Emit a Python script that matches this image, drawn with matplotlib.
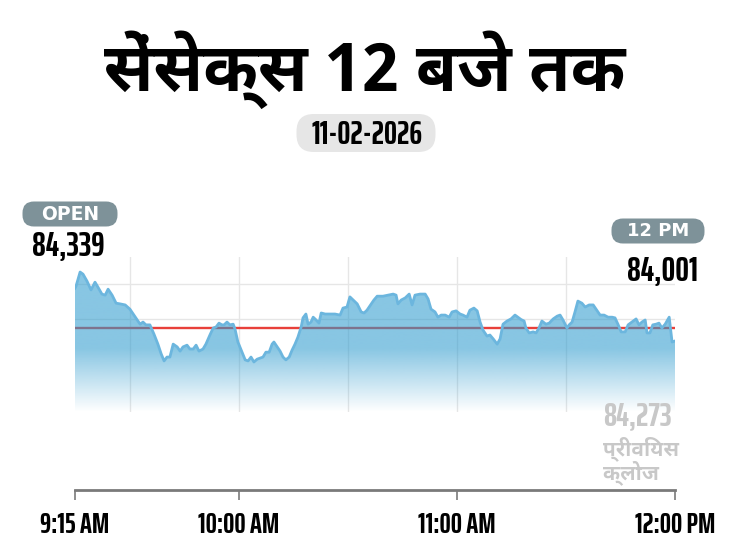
import numpy as np
import matplotlib
matplotlib.use("Agg")
import matplotlib.pyplot as plt
from matplotlib import font_manager
from matplotlib.font_manager import FontProperties
from matplotlib.ft2font import FT2Font
from matplotlib.patches import PathPatch, FancyBboxPatch
from matplotlib.transforms import IdentityTransform

title = "सेंसेक्स 12 बजे तक"
date_label = "11-02-2026"
open_label = "OPEN"
open_value = "84,339"
now_label = "12 PM"
now_value = "84,001"
prev_value = "84,273"
prev_words = ["प्रीवियस", "क्लोज"]
prev_close = 84273

tick_minutes = [0, 45, 105, 165]
tick_labels = ["9:15 AM", "10:00 AM", "11:00 AM", "12:00 PM"]
grid_minutes = [15, 45, 75, 105, 135]
grid_levels = [84300, 84400]

# minutes after 9:15
minutes = [0.0, 0.3, 1.4, 2.2, 3.3, 4.4, 5.5, 6.3, 7.4, 8.3,
           9.1, 10.2, 11.3, 12.4, 13.8, 15.1, 16.0, 17.1, 17.9, 18.7,
           19.5, 20.6, 21.7, 22.8, 23.7, 24.5, 25.3, 26.1, 27.0, 28.1,
           28.9, 29.7, 30.8, 31.6, 32.5, 33.3, 34.1, 35.2, 36.0, 37.1,
           38.0, 38.8, 39.6, 40.4, 41.0, 41.8, 42.6, 43.5, 44.0, 44.8,
           45.7, 46.8, 47.6, 48.4, 49.2, 50.1, 50.9, 51.7, 52.5, 53.4,
           54.2, 54.7, 55.6, 56.4, 57.2, 58.0, 58.9, 59.7, 60.5, 61.3,
           62.2, 62.7, 63.5, 64.1, 64.9, 65.5, 66.3, 67.1, 67.7, 68.8,
           70.1, 71.5, 72.9, 73.7, 74.8, 75.6, 76.5, 77.6, 78.7, 79.5,
           80.3, 81.1, 82.2, 83.1, 84.7, 86.1, 87.5, 88.3, 88.8, 89.7,
           90.8, 91.9, 92.7, 93.5, 94.9, 96.3, 97.1, 97.9, 99.0, 99.8,
           100.7, 101.8, 102.9, 103.7, 104.8, 105.9, 106.7, 107.8, 108.6, 109.7,
           110.6, 111.4, 112.2, 113.3, 114.1, 115.0, 116.1, 116.9, 117.7, 118.8,
           119.9, 121.0, 121.8, 122.7, 123.5, 124.0, 124.9, 126.0, 126.8, 127.6,
           128.4, 129.5, 130.4, 131.5, 132.6, 133.4, 134.2, 135.3, 135.9, 136.7,
           137.5, 138.3, 139.4, 140.3, 141.4, 142.5, 143.3, 144.4, 145.5, 146.6,
           147.7, 148.5, 149.3, 150.2, 151.3, 152.1, 153.5, 154.3, 155.1, 155.9,
           156.8, 157.3, 158.1, 158.9, 159.8, 160.6, 161.4, 162.3, 163.4, 164.2,
           165.0]
values = [84387, 84393, 84433, 84427, 84407, 84382, 84404, 84390, 84370, 84367,
          84384, 84367, 84344, 84342, 84339, 84327, 84313, 84296, 84284, 84290,
          84282, 84282, 84256, 84227, 84199, 84179, 84190, 84190, 84227, 84219,
          84207, 84219, 84224, 84213, 84213, 84224, 84207, 84213, 84227, 84253,
          84273, 84276, 84287, 84282, 84282, 84290, 84282, 84284, 84270, 84233,
          84210, 84182, 84179, 84190, 84176, 84184, 84187, 84190, 84204, 84204,
          84227, 84233, 84219, 84207, 84190, 84182, 84190, 84210, 84227, 84247,
          84276, 84302, 84313, 84284, 84290, 84304, 84296, 84287, 84316, 84313,
          84313, 84313, 84310, 84330, 84333, 84362, 84353, 84342, 84319, 84316,
          84324, 84336, 84353, 84364, 84364, 84367, 84370, 84367, 84342, 84353,
          84359, 84370, 84339, 84367, 84370, 84370, 84356, 84327, 84319, 84304,
          84310, 84310, 84304, 84319, 84322, 84313, 84310, 84304, 84324, 84330,
          84322, 84290, 84267, 84250, 84253, 84242, 84227, 84242, 84284, 84293,
          84299, 84310, 84304, 84297, 84293, 84273, 84259, 84262, 84259, 84273,
          84293, 84284, 84287, 84299, 84307, 84310, 84296, 84273, 84282, 84290,
          84319, 84350, 84344, 84333, 84339, 84339, 84327, 84310, 84310, 84304,
          84304, 84302, 84284, 84262, 84262, 84282, 84293, 84299, 84282, 84290,
          84296, 84259, 84259, 84282, 84284, 84287, 84273, 84284, 84304, 84233,
          84236]

BOLD = ("bold", "700", "800", "900", "heavy", "black", "semibold", "600", "demibold")

# a font with Devanagari glyphs, bold if possible
deva = []
for f in font_manager.fontManager.ttflist:
    try:
        cmap = FT2Font(f.fname).get_charmap()
    except Exception:
        continue
    if 0x0938 in cmap:
        deva.append((str(f.weight) in BOLD, "Devanagari" in f.name, f.name))
deva.sort(reverse=True)
deva_fam = [deva[0][2], "DejaVu Sans"] if deva else ["DejaVu Sans"]

# a condensed bold font for the numbers, if one is installed
cond = []
for f in font_manager.fontManager.ttflist:
    nm = (f.name + " " + f.fname.split("/")[-1]).lower()
    if f.style != "normal" or "italic" in nm or str(f.weight) not in BOLD:
        continue
    if "extracondensed" in nm or "extra-condensed" in nm or str(f.stretch) == "extra-condensed":
        score = 3
    elif "narrow" in nm or "condensed" in nm or str(f.stretch) == "condensed":
        score = 2 if "semi" not in nm else 1
    else:
        continue
    cond.append((score, str(f.weight) == "bold" or str(f.weight) == "700", f.fname))
cond.sort(reverse=True)
cond_file = cond[0][2] if cond else None


def numfont(size):
    if cond_file:
        return dict(fontproperties=FontProperties(fname=cond_file, size=size))
    return dict(fontproperties=FontProperties(family="DejaVu Sans", weight="bold",
                                              size=size * 0.72))


W, H = 730, 548
fig = plt.figure(figsize=(7.3, 5.48), dpi=100)


def fx(px):
    return px / W


def fy(py):
    return 1 - py / H


def badge(cx, cy, w, h, color):
    p = FancyBboxPatch((cx - w / 2, H - cy - h / 2), w, h,
                       boxstyle="round,pad=0,rounding_size=%f" % (h / 2.2),
                       transform=IdentityTransform(), fc=color, ec="none")
    fig.add_artist(p)


ylo, yhi = 84033, 84476
ax = fig.add_axes([fx(75), fy(412), fx(675) - fx(75), fy(257) - fy(412)])
for s in ["left", "right", "top"]:
    ax.spines[s].set_visible(False)
ax.spines["bottom"].set_position(("outward", 56))
ax.spines["bottom"].set_color("#7a7a7a")
ax.spines["bottom"].set_linewidth(2)

ax.axhline(prev_close, color="#e8403a", lw=1.7, zorder=1)

# gradient fill under the line
poly = ax.fill_between(minutes, values, ylo, color="none", lw=0)
clip = PathPatch(poly.get_paths()[0], transform=ax.transData, fc="none", ec="none")
ax.add_patch(clip)
ys = np.linspace(ylo, yhi, 300)
alpha = np.clip((ys - 84033) / (84215 - 84033), 0, 1) * 0.57
grad = np.zeros((300, 1, 4))
grad[:, 0, :3] = np.array([46, 155, 206]) / 255
grad[:, 0, 3] = alpha
im = ax.imshow(grad, extent=[0, 165, ylo, yhi], origin="lower", aspect="auto", zorder=2)
im.set_clip_path(clip)
ax.plot(minutes, values, color="#6cb6de", lw=2.0, zorder=3, solid_joinstyle="round")
ax.set_xlim(0, 165)
ax.set_ylim(ylo, yhi)

# grid and ticks
ax.xaxis.remove_overlapping_locs = False
ax.set_xticks(tick_minutes)
ax.set_xticks(grid_minutes, minor=True)
ax.set_yticks(grid_levels)
ax.grid(axis="x", which="minor", color="#e6e6e6", lw=1, zorder=0)
ax.grid(axis="y", color="#e6e6e6", lw=1, zorder=0)
ax.set_axisbelow(True)
ax.tick_params(axis="y", length=0, labelleft=False)
ax.tick_params(axis="x", which="minor", length=0)
ax.tick_params(axis="x", which="major", length=7, width=1.2, color="#7a7a7a", pad=8)
ax.set_xticklabels(tick_labels, color="black", **numfont(20.5))

# title and labels
fig.text(0.5, fy(70), title, ha="center", va="center", fontsize=48,
         fontweight="bold", family=deva_fam)
badge(366, 133, 139, 38, "#e6e6e6")
fig.text(fx(367), fy(144), date_label, ha="center", va="baseline", **numfont(23.5))

badge(70, 214, 95, 25, "#7e9299")
fig.text(fx(70), fy(214), open_label, ha="center", va="center", fontsize=13.5,
         color="white", fontweight="bold", family="DejaVu Sans")
fig.text(fx(68), fy(256), open_value, ha="center", va="baseline", **numfont(24.5))

badge(658, 231, 93, 25, "#7e9299")
fig.text(fx(658), fy(231), now_label, ha="center", va="center", fontsize=13,
         color="white", fontweight="bold", family="DejaVu Sans")
fig.text(fx(698), fy(281), now_value, ha="right", va="baseline", **numfont(24.5))

fig.text(fx(603), fy(425), prev_value, ha="left", va="baseline",
         color="#c8c8c8", **numfont(23.5))
fig.text(fx(603), fy(479), "\n".join(prev_words), ha="left", va="baseline",
         fontsize=15, linespacing=0.95, color="#c8c8c8", fontweight="bold",
         family=deva_fam)

fig.savefig("out.png", dpi=100)
